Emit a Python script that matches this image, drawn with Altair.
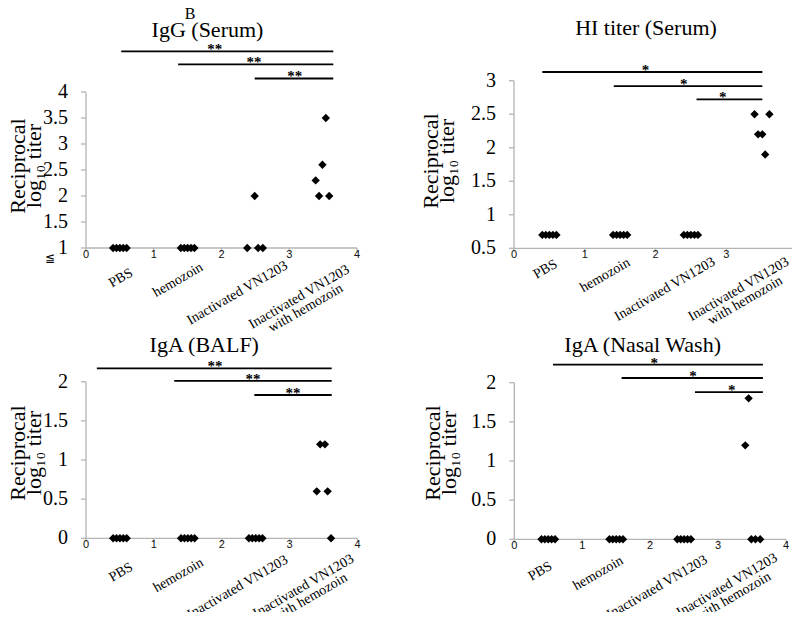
import altair as alt
import pandas as pd

# ---------------- data ----------------
CATEGORIES = ["PBS", "hemozoin", "Inactivated VN1203", "Inactivated VN1203\nwith hemozoin"]
X_TICKS = [0, 1, 2, 3, 4]

# IgG (Serum)
IGG_X = [0.40, 0.45, 0.50, 0.55, 0.60, 1.40, 1.45, 1.50, 1.55, 1.60,
         2.38, 2.54, 2.61, 2.49, 3.54, 3.49, 3.39, 3.44, 3.59]
IGG_Y = [1, 1, 1, 1, 1, 1, 1, 1, 1, 1,
         1, 1, 1, 2.0, 3.5, 2.6, 2.3, 2.0, 2.0]
IGG_YTICKS = [1, 1.5, 2, 2.5, 3, 3.5, 4]
IGG_SIG_FROM = [0.52, 1.36, 2.49]
IGG_SIG_TO = [3.65, 3.65, 3.65]
IGG_SIG_Y = [4.78, 4.53, 4.26]
IGG_STAR_X = [1.90, 2.48, 3.08]
IGG_STARS = ["**", "**", "**"]

# HI titer (Serum)
HI_X = [0.40, 0.45, 0.50, 0.55, 0.60, 1.40, 1.45, 1.50, 1.55, 1.60,
        2.40, 2.45, 2.50, 2.55, 2.60, 3.40, 3.61, 3.45, 3.51, 3.55]
HI_Y = [0.7, 0.7, 0.7, 0.7, 0.7, 0.7, 0.7, 0.7, 0.7, 0.7,
        0.7, 0.7, 0.7, 0.7, 0.7, 2.5, 2.5, 2.2, 2.2, 1.9]
HI_YTICKS = [0.5, 1, 1.5, 2, 2.5, 3]
HI_SIG_FROM = [0.40, 1.41, 2.58]
HI_SIG_TO = [3.51, 3.51, 3.51]
HI_SIG_Y = [3.13, 2.92, 2.72]
HI_STAR_X = [1.86, 2.40, 2.95]
HI_STARS = ["*", "*", "*"]

# IgA (BALF)
BALF_X = [0.40, 0.45, 0.50, 0.55, 0.60, 1.40, 1.45, 1.50, 1.55, 1.60,
          2.40, 2.45, 2.50, 2.55, 2.60, 3.45, 3.52, 3.40, 3.56, 3.61]
BALF_Y = [0, 0, 0, 0, 0, 0, 0, 0, 0, 0,
          0, 0, 0, 0, 0, 1.2, 1.2, 0.6, 0.6, 0]
BALF_YTICKS = [0, 0.5, 1, 1.5, 2]
BALF_SIG_FROM = [0.16, 1.30, 2.48]
BALF_SIG_TO = [3.62, 3.62, 3.62]
BALF_SIG_Y = [2.17, 2.01, 1.83]
BALF_STAR_X = [1.90, 2.46, 3.05]
BALF_STARS = ["**", "**", "**"]

# IgA (Nasal Wash)
NASAL_X = [0.40, 0.45, 0.50, 0.55, 0.60, 1.40, 1.45, 1.50, 1.55, 1.60,
           2.40, 2.45, 2.50, 2.55, 2.60, 3.45, 3.40, 3.49, 3.55, 3.62]
NASAL_Y = [0, 0, 0, 0, 0, 0, 0, 0, 0, 0,
           0, 0, 0, 0, 0, 1.8, 1.2, 0, 0, 0]
NASAL_YTICKS = [0, 0.5, 1, 1.5, 2]
NASAL_SIG_FROM = [0.57, 1.58, 2.66]
NASAL_SIG_TO = [3.66, 3.66, 3.66]
NASAL_SIG_Y = [2.23, 2.06, 1.88]
NASAL_STAR_X = [2.06, 2.63, 3.20]
NASAL_STARS = ["*", "*", "*"]

Y_TITLE = "Reciprocal\nlog\u2081\u2080 titer"

# ---------------- layout / style ----------------
W, H = 784, 604
SERIF = "Liberation Serif"
SANS = "Liberation Sans"
GRAY = "#b4b4b4"

PANELS = [
    dict(title="IgG (Serum)", x=IGG_X, y=IGG_Y, sf=IGG_SIG_FROM, st=IGG_SIG_TO, sy=IGG_SIG_Y,
         sx=IGG_STAR_X, stars=IGG_STARS, xr=[78, 349], yr=[240, 84], ydom=[1, 4],
         yticks=IGG_YTICKS, tdx=-14, tdy=-55, ydx=-68, ydy=-4,
         lab=[(1, 30), (-9.6, 32), (-18, 45), (-24, 49)], letter=True),
    dict(title="HI titer (Serum)", x=HI_X, y=HI_Y, sf=HI_SIG_FROM, st=HI_SIG_TO, sy=HI_SIG_Y,
         sx=HI_STAR_X, stars=HI_STARS, xr=[506, 789], yr=[240.3, 72.7], ydom=[0.5, 3],
         yticks=HI_YTICKS, tdx=-9.5, tdy=-46, ydx=-83, ydy=-3.5,
         lab=[(-4, 21), (-15, 27), (-26, 41), (-23, 41)], letter=False),
    dict(title="IgA (BALF)", x=BALF_X, y=BALF_Y, sf=BALF_SIG_FROM, st=BALF_SIG_TO, sy=BALF_SIG_Y,
         sx=BALF_STAR_X, stars=BALF_STARS, xr=[78, 349.5], yr=[530.3, 373.7], ydom=[0, 2],
         yticks=BALF_YTICKS, tdx=-17.5, tdy=-30, ydx=-68, ydy=-7,
         lab=[(1, 34), (-9.5, 37), (-18, 49), (-20, 48)], letter=False),
    dict(title="IgA (Nasal Wash)", x=NASAL_X, y=NASAL_Y, sf=NASAL_SIG_FROM, st=NASAL_SIG_TO,
         sy=NASAL_SIG_Y, sx=NASAL_STAR_X, stars=NASAL_STARS, xr=[506.3, 778],
         yr=[531.3, 374.7], ydom=[0, 2], yticks=NASAL_YTICKS, tdx=-7.5, tdy=-31,
         ydx=-81, ydy=-8, lab=[(-8, 32), (-18, 34), (-27, 48), (-25, 46)], letter=False),
]


def build_panel(p):
    xsc = alt.Scale(domain=[0, 4], range=p["xr"], nice=False, zero=False)
    ysc = alt.Scale(domain=p["ydom"], range=p["yr"], nice=False, zero=False)
    ppx = (p["xr"][1] - p["xr"][0]) / 4.0
    ppy = (p["yr"][0] - p["yr"][1]) / (p["ydom"][1] - p["ydom"][0])
    ymin, ymax = p["ydom"]

    def X(f):
        return alt.X(f, scale=xsc, axis=None)

    def Y(f):
        return alt.Y(f, scale=ysc, axis=None)

    # ---- axes drawn from the panel's own scales ----
    xdom = alt.Chart(pd.DataFrame({"a": [0], "b": [4], "y": [ymin]})).mark_rule(
        color=GRAY, strokeWidth=1.3).encode(x=X("a:Q"), x2="b:Q", y=Y("y:Q"))
    ydom = alt.Chart(pd.DataFrame({"x": [0], "a": [ymin], "b": [ymax]})).mark_rule(
        color=GRAY, strokeWidth=1.3).encode(x=X("x:Q"), y=Y("a:Q"), y2="b:Q")
    xt = pd.DataFrame({"t": X_TICKS})
    xt["y0"] = ymin
    xt["y1"] = ymin - 4.0 / ppy
    xticks = alt.Chart(xt).mark_rule(color=GRAY, strokeWidth=1.3).encode(
        x=X("t:Q"), y=Y("y0:Q"), y2="y1:Q")
    xlabels = alt.Chart(xt).mark_text(
        font=SANS, fontSize=11, color="#111111", align="center", baseline="top", dy=1
    ).encode(x=X("t:Q"), y=Y("y0:Q"), text=alt.Text("t:Q", format="d"))
    yt = pd.DataFrame({"t": p["yticks"]})
    yt["x0"] = 0.0
    yt["x1"] = -5.0 / ppx
    yticks = alt.Chart(yt).mark_rule(color=GRAY, strokeWidth=1.3).encode(
        x=X("x0:Q"), x2="x1:Q", y=Y("t:Q"))
    ylabels = alt.Chart(yt).mark_text(
        font=SERIF, fontSize=20, color="black", align="right", baseline="middle", dx=-18
    ).encode(x=X("x0:Q"), y=Y("t:Q"), text=alt.Text("t:Q", format=".1~f"))
    # rotated axis title: anchor computed in data units (dx/dy would act in rotated frame)
    ytitle = alt.Chart(pd.DataFrame({
        "x": [p["ydx"] / ppx],
        "y": [(ymin + ymax) / 2.0 - p["ydy"] / ppy],
        "t": [Y_TITLE]})).mark_text(
        font=SERIF, fontSize=22, color="black", align="center", baseline="middle",
        angle=270, lineBreak="\n", lineHeight=16
    ).encode(x=X("x:Q"), y=Y("y:Q"), text="t:N")

    # ---- data points ----
    pts = alt.Chart(pd.DataFrame({"x": p["x"], "y": p["y"]})).mark_point(
        shape="diamond", filled=True, color="black", size=70, opacity=1
    ).encode(x=X("x:Q"), y=Y("y:Q"))

    # ---- significance bars ----
    sig = pd.DataFrame({"x1": p["sf"], "x2": p["st"], "y": p["sy"],
                        "sx": p["sx"], "star": p["stars"]})
    bars = alt.Chart(sig).mark_rule(color="black", strokeWidth=1.8).encode(
        x=X("x1:Q"), x2="x2:Q", y=Y("y:Q"))
    startxt = alt.Chart(sig).mark_text(
        font=SERIF, fontSize=15, fontWeight="bold", color="black", align="center",
        baseline="alphabetic", dy=3
    ).encode(x=X("sx:Q"), y=Y("y:Q"), text="star:N")

    # ---- rotated category labels ----
    labdf = pd.DataFrame({
        "lx": [i + 0.5 + p["lab"][i][0] / ppx for i in range(4)],
        "ly": [ymin - p["lab"][i][1] / ppy for i in range(4)],
        "lab": CATEGORIES,
    })
    labels = alt.Chart(labdf).mark_text(
        font=SERIF, fontSize=14, color="black", align="center", baseline="middle",
        angle=330, lineBreak="\n", lineHeight=13
    ).encode(x=X("lx:Q"), y=Y("ly:Q"), text="lab:N")

    # ---- panel title ----
    tdf = pd.DataFrame({"tx": [2.0], "ty": [ymax], "t": [p["title"]]})
    title = alt.Chart(tdf).mark_text(
        font=SERIF, fontSize=22, color="black", align="center", baseline="alphabetic",
        dx=p["tdx"], dy=p["tdy"]
    ).encode(x=X("tx:Q"), y=Y("ty:Q"), text="t:N")

    layers = [xdom, ydom, xticks, yticks, xlabels, ylabels, ytitle,
              bars, startxt, pts, labels, title]

    if p["letter"]:
        bdf = pd.DataFrame({"tx": [2.0], "ty": [ymax], "t": ["B"]})
        letter = alt.Chart(bdf).mark_text(
            font=SERIF, fontSize=16, color="black", align="center", baseline="alphabetic",
            dx=-31.5, dy=-73
        ).encode(x=X("tx:Q"), y=Y("ty:Q"), text="t:N")
        ldf = pd.DataFrame({"tx": [0.0], "ty": [ymin], "t": ["\u2266"]})
        le = alt.Chart(ldf).mark_text(
            font=SERIF, fontSize=12, color="black", align="center", baseline="alphabetic",
            dx=-36.5, dy=14
        ).encode(x=X("tx:Q"), y=Y("ty:Q"), text="t:N")
        layers += [letter, le]

    return alt.layer(*layers)


chart = alt.layer(*[build_panel(p) for p in PANELS]).resolve_scale(
    x="independent", y="independent"
).properties(
    width=W, height=H, autosize=alt.AutoSizeParams(type="none"), padding=0,
    background="white"
).configure_view(strokeWidth=0)

chart.save("out.html", embed_options={"renderer": "svg", "actions": False})
